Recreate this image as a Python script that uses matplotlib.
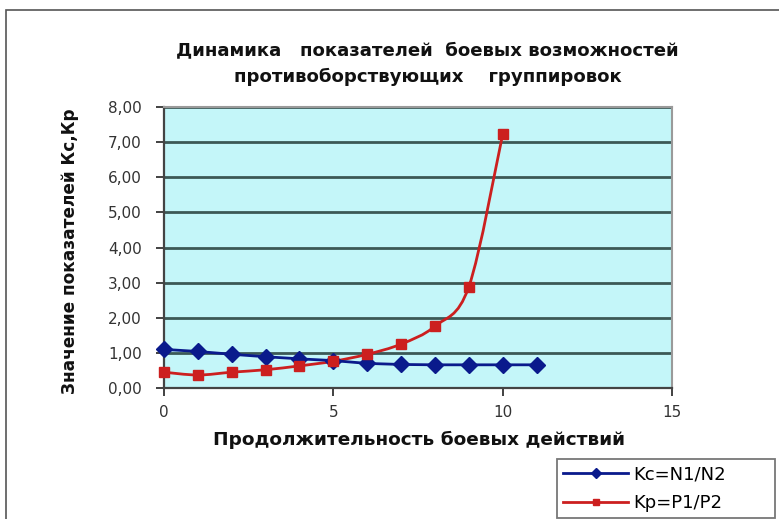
import matplotlib.pyplot as plt
from matplotlib.path import Path
from matplotlib.patches import PathPatch, Rectangle

plt.rcParams['font.family'] = ['DejaVu Sans']

# данные
t = [0, 1, 2, 3, 4, 5, 6, 7, 8, 9, 10, 11]
kc = [1.10, 1.04, 0.96, 0.89, 0.83, 0.78, 0.70, 0.67, 0.66, 0.66, 0.66, 0.66]
t_kp = [0, 1, 2, 3, 4, 5, 6, 7, 8, 9, 10]
kp = [0.45, 0.37, 0.45, 0.52, 0.63, 0.76, 0.96, 1.25, 1.76, 2.88, 7.22]

yticks = [0, 1, 2, 3, 4, 5, 6, 7, 8]
xticks = [0, 5, 10, 15]


def smooth_path(xs, ys, k=1/6):
    # кривая Безье как у сглаженной линии Excel
    verts = [(xs[0], ys[0])]
    codes = [Path.MOVETO]
    n = len(xs)
    for i in range(n - 1):
        x0, y0 = (xs[i - 1], ys[i - 1]) if i > 0 else (xs[i], ys[i])
        x1, y1 = xs[i], ys[i]
        x2, y2 = xs[i + 1], ys[i + 1]
        x3, y3 = (xs[i + 2], ys[i + 2]) if i + 2 < n else (x2, y2)
        verts += [(x1 + (x2 - x0) * k, y1 + (y2 - y0) * k),
                  (x2 - (x3 - x1) * k, y2 - (y3 - y1) * k),
                  (x2, y2)]
        codes += [Path.CURVE4] * 3
    return Path(verts, codes)


fig = plt.figure(figsize=(7.79, 5.19), dpi=100)
fig.patches.append(Rectangle((6 / 779, -0.1), 1.2, 1.1 - 10 / 519, transform=fig.transFigure,
                             fill=False, edgecolor='#555555', linewidth=1.2))

ax = fig.add_axes([164 / 779, 1 - 388 / 519, (672 - 164) / 779, (388 - 107) / 519])
ax.set_facecolor('#c4f6f9')
ax.set_xlim(0, 15)
ax.set_ylim(0, 8)
ax.set_yticks(yticks)
ax.set_xticks(xticks)
ax.set_yticklabels([('%.2f' % v).replace('.', ',') for v in yticks])
ax.tick_params(labelsize=11, colors='#333333', length=6, width=1.3)
ax.tick_params(axis='y', pad=10)
ax.tick_params(axis='x', pad=6)
ax.grid(axis='y', color='#3c5856', linewidth=2)
ax.set_axisbelow(True)
for s in ['top', 'right']:
    ax.spines[s].set_color('#9a9a9a')
    ax.spines[s].set_linewidth(1.5)
for s in ['left', 'bottom']:
    ax.spines[s].set_color('#444444')
    ax.spines[s].set_linewidth(1.6)

ax.plot(t, kc, color='#0a1a8c', linewidth=2, marker='D', markersize=8,
        clip_on=False, zorder=4)
ax.add_patch(PathPatch(smooth_path(t_kp, kp), fill=False, edgecolor='#cc1f1f',
                       linewidth=2, zorder=3))
ax.plot(t_kp, kp, color='#cc1f1f', linewidth=0, marker='s', markersize=7.5,
        clip_on=False, zorder=5)
ax.plot([], [], color='#0a1a8c', linewidth=2, marker='D', markersize=5, label='Kc=N1/N2')
ax.plot([], [], color='#cc1f1f', linewidth=2, marker='s', markersize=5, label='Kp=P1/P2')

fig.text(0.549, 1 - 50 / 519, 'Динамика   показателей  боевых возможностей',
         ha='center', va='center', fontsize=13.1, fontweight='bold', color='#111111')
fig.text(0.549, 1 - 77 / 519, 'противоборствующих    группировок',
         ha='center', va='center', fontsize=13.1, fontweight='bold', color='#111111')
fig.text(70 / 779, 1 - 251 / 519, 'Значение показателей Кс,Кр', rotation=90,
         ha='center', va='center', fontsize=12.2, fontweight='bold', color='#111111')
fig.text(419 / 779, 1 - 440 / 519, 'Продолжительность боевых действий',
         ha='center', va='center', fontsize=13.3, fontweight='bold', color='#111111')

leg = fig.legend(loc='upper left', bbox_to_anchor=(557 / 779, 1 - 459 / 519, 218 / 779, 0),
                 mode='expand', fontsize=13, frameon=True, fancybox=False,
                 edgecolor='#555555', handlelength=3.6, handletextpad=0.3,
                 borderpad=0.35, labelspacing=0.6, borderaxespad=0)
leg.get_frame().set_linewidth(1.3)

plt.savefig('out.png', dpi=100)
